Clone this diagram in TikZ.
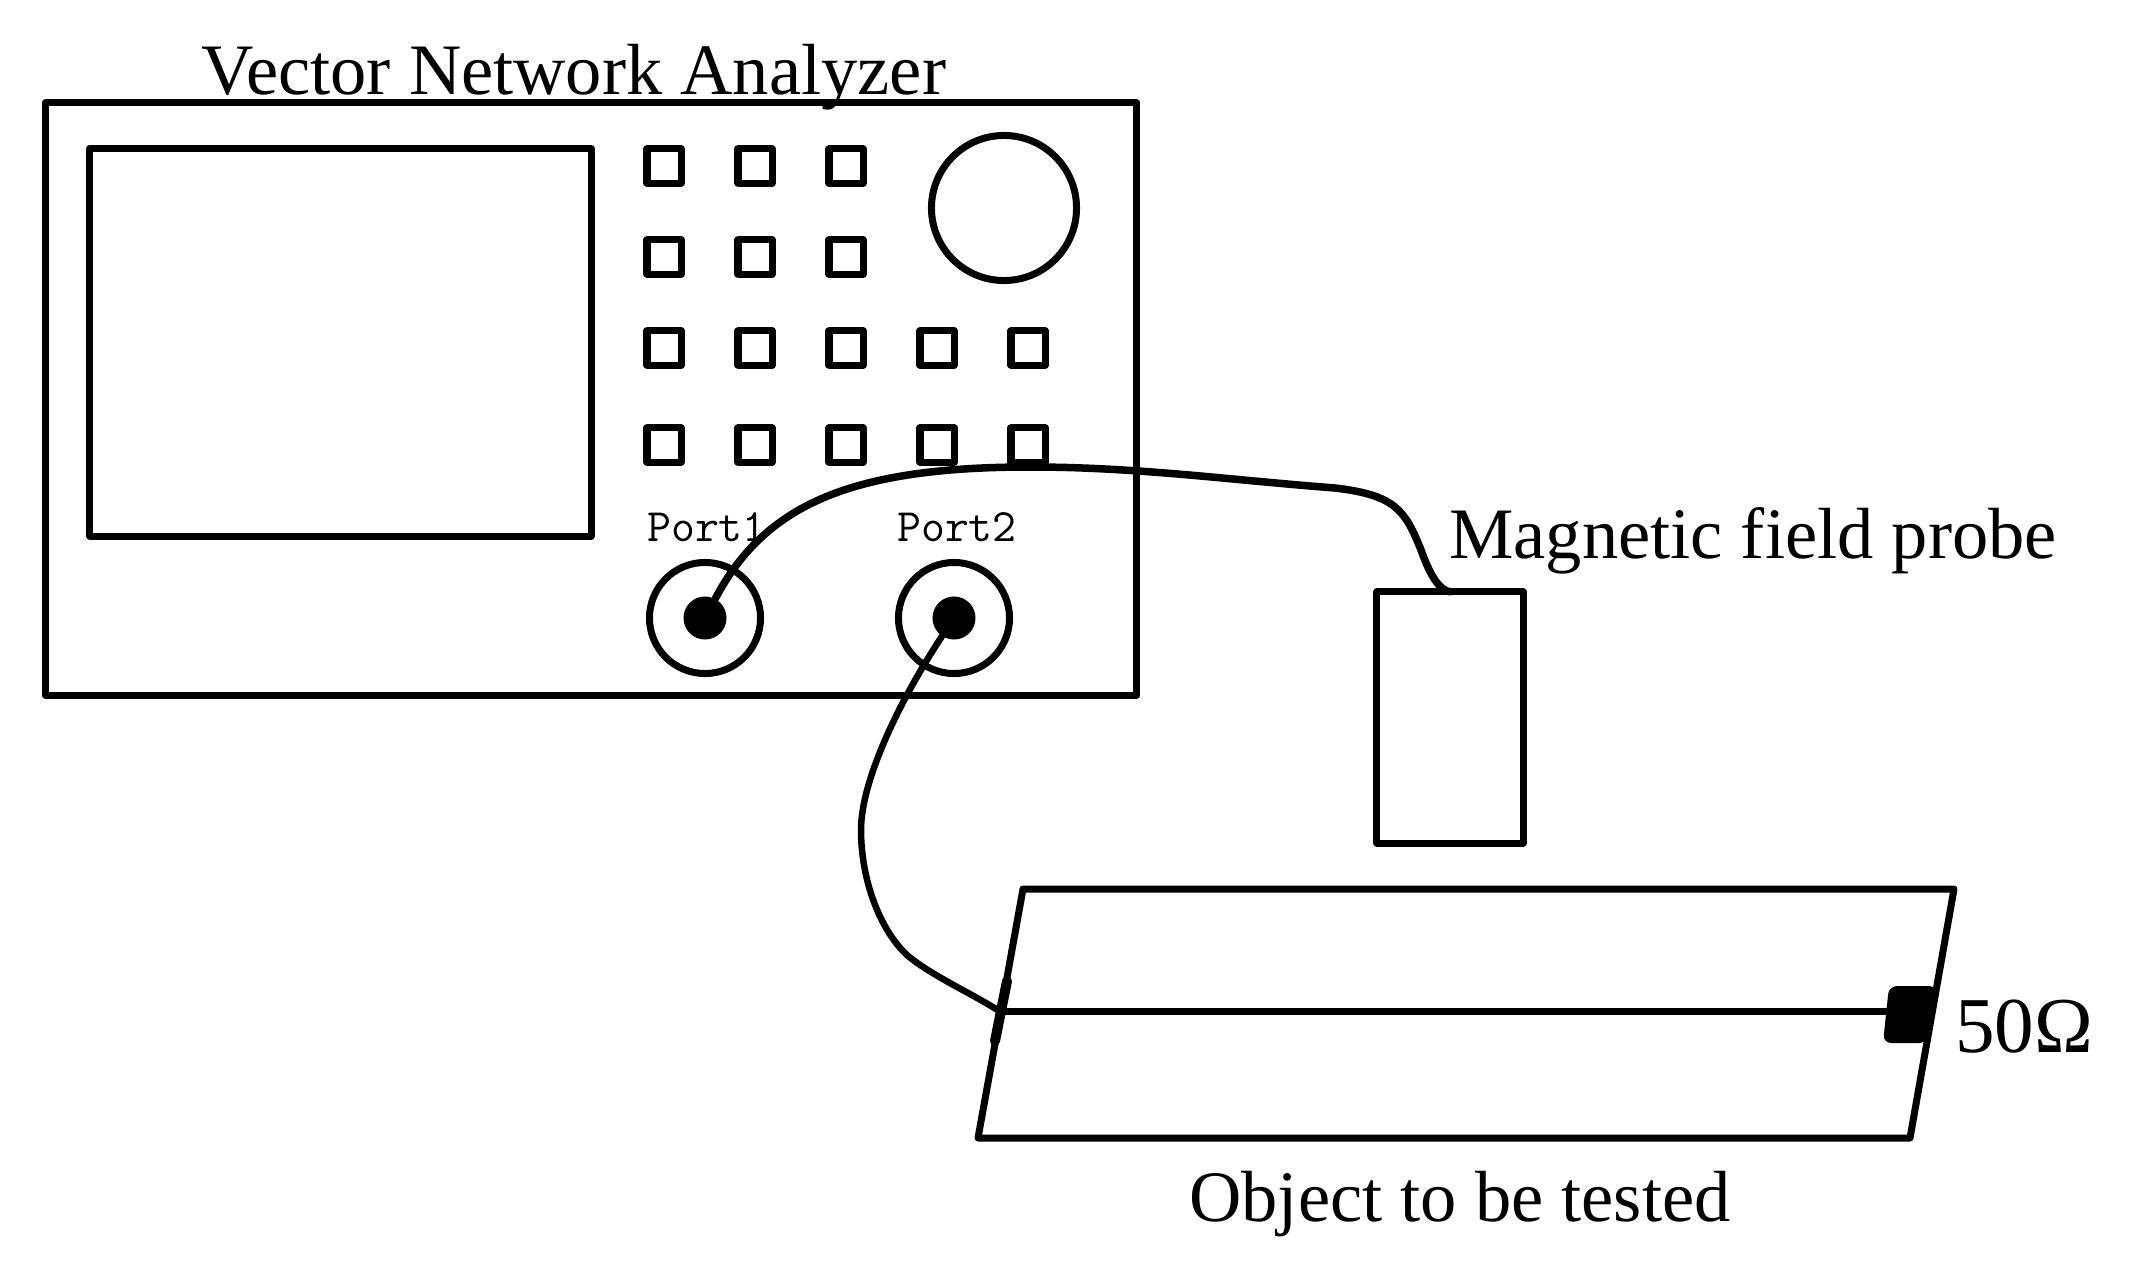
\documentclass[tikz,border=0pt]{standalone}
\usepackage{fontspec}
\setmainfont{Liberation Serif}
\usepackage{xcolor}
\usetikzlibrary{positioning,calc}

\tikzset{
  box/.style={draw, line width=0.07cm, line join=round, inner sep=0pt, outer sep=0pt},
  key/.style={box, minimum size=0.34cm},
  bigtext/.style={inner sep=0pt, anchor=base, font=\fontsize{20.6}{24}\selectfont},
  porttext/.style={inner sep=0pt, anchor=base, font=\ttfamily\fontsize{13.2}{16}\selectfont},
  wire/.style={line width=0.075cm, line cap=round, line join=round},
}

\begin{document}
\begin{tikzpicture}[x=0.01cm, y=-0.01cm]
  \useasboundingbox (0,0) rectangle (2145,1273);
  % analyzer front
  \node [box, minimum width=10.91cm, minimum height=5.92cm] (vna) at (591,399) {};
  \node [box, minimum width=5.01cm, minimum height=3.87cm] (screen) at (340.5,342.5) {};
  \node [box, circle, minimum size=1.45cm] (knob) at (1004,208) {};
  \foreach \x/\i in {664/1,755/2,846/3} {
    \node [key] (key1\i) at (\x,166) {};
    \node [key] (key2\i) at (\x,257) {};
  }
  \foreach \x/\i in {664/1,755/2,846/3,937/4,1028/5} {
    \node [key] (key3\i) at (\x,348) {};
    \node [key] (key4\i) at (\x,445) {};
  }
  % ports
  \node [box, circle, minimum size=1.11cm] (port1) at (705,618) {};
  \node [box, circle, minimum size=1.11cm] (port2) at (954,618) {};
  \node [circle, fill=black, minimum size=0.43cm, inner sep=0pt] (pin1) at (705,618) {};
  \node [circle, fill=black, minimum size=0.43cm, inner sep=0pt] (pin2) at (954,618) {};
  \node [porttext] (port1text) at (707,541) {Port1};
  \node [porttext] (port2text) at (957,541) {Port2};
  % probe
  \node [box, minimum width=1.46cm, minimum height=2.51cm] (probe) at (1450,717.5) {};
  % object
  \coordinate (objA) at (1023,889);
  \coordinate (objB) at (1954,889);
  \coordinate (objC) at (1910,1138);
  \coordinate (objD) at (978,1138);
  \coordinate (feed) at (999,1011);
  \coordinate (barTop) at (1007,981);
  \coordinate (barBot) at (995,1041);
  \coordinate (load) at (1888,1011);
  \draw [box] (objA) -- (objB) -- (objC) -- (objD) -- cycle;
  \draw [wire, line width=0.1cm] (barTop) -- (barBot);
  \draw [line width=0.07cm] (feed) -- (load);
  \fill [rounded corners=0.08cm] (1889,986) -- (1937,986) -- (1927,1043) -- (1883,1043) -- cycle;
  % cables
  \draw [wire] (pin1) .. controls (765,505) and (850,467) .. (1030,467)
    .. controls (1137,467) and (1230,480) .. (1335,488)
    .. controls (1395,495) and (1405,510) .. (1421,550)
    .. controls (1431,578) and (1440,590) .. (probe.north);
  \draw [wire, line width=0.065cm] (pin2) .. controls (900,700) and (861,780) .. (861,830)
    .. controls (861,880) and (880,930) .. (907,955)
    .. controls (930,975) and (975,995) .. (feed);
  % labels
  \node [bigtext] (vnatext) at (574,95) {Vector Network Analyzer};
  \node [bigtext] (probetext) at (1753,558) {Magnetic field probe};
  \node [bigtext] (objtext) at (1460,1221) {Object to be tested};
  \node [bigtext, font=\fontsize{22.5}{24}\selectfont] (loadtext) at (2024,1052) {50Ω};
\end{tikzpicture}
\end{document}
